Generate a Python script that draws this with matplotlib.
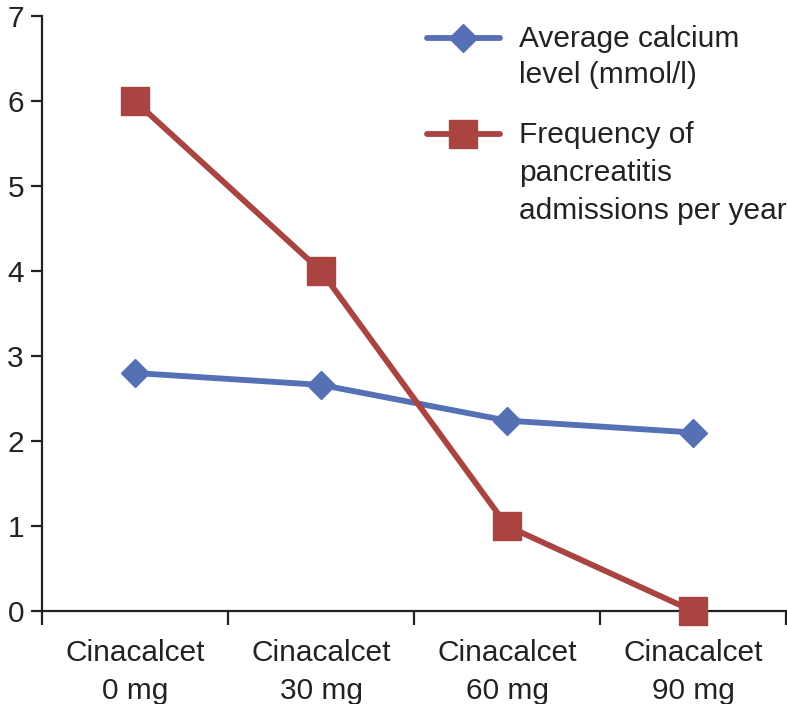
import numpy as np
import matplotlib
matplotlib.use('Agg')
import matplotlib.pyplot as plt
from matplotlib.ticker import FixedLocator, NullFormatter

plt.rcParams['font.family'] = ['Liberation Sans', 'DejaVu Sans']

categories = ['Cinacalcet\n0 mg', 'Cinacalcet\n30 mg', 'Cinacalcet\n60 mg', 'Cinacalcet\n90 mg']
calcium = [2.8, 2.66, 2.24, 2.1]
pancreatitis = [6, 4, 1, 0]
labels = ['Average calcium\nlevel (mmol/l)', 'Frequency of\npancreatitis\nadmissions per year']

blue = '#5670b5'
red = '#aa4440'
ink = '#222222'
fs = 21.5

fig = plt.figure(figsize=(7.87, 7.04), dpi=100)
ax = fig.add_axes([42 / 787, 1 - 611 / 704, 744 / 787, 595 / 704])

x = np.arange(len(categories))
ax.plot(x, calcium, '-D', color=blue, lw=4.2, ms=14, zorder=3)
ax.plot(x, pancreatitis, '-s', color=red, lw=4.2, ms=20, zorder=3, clip_on=False)

ax.set_xlim(-0.5, len(categories) - 0.5)
ax.set_ylim(0, 7)
ax.set_yticks(range(0, 8))
ax.tick_params(axis='y', direction='out', length=8, width=1.6, color=ink,
               labelsize=fs, pad=5, labelcolor=ink)
ax.set_xticks(x)
ax.set_xticklabels(categories, fontsize=fs, color=ink, linespacing=1.45)
ax.tick_params(axis='x', which='major', length=0, pad=20)
ax.xaxis.set_minor_locator(FixedLocator(np.arange(-0.5, len(categories), 1.0)))
ax.xaxis.set_minor_formatter(NullFormatter())
ax.tick_params(axis='x', which='minor', direction='out', length=10, width=1.6, color=ink)

for side in ['top', 'right']:
    ax.spines[side].set_visible(False)
for side in ['left', 'bottom']:
    ax.spines[side].set_linewidth(1.6)
    ax.spines[side].set_color(ink)

# legend drawn by hand so the key sits beside the first text line
for (color, marker, ms, y_key, y_text, label, ls) in [
        (blue, 'D', 14, 0.963, 0.985, labels[0], 1.35),
        (red, 's', 20, 0.802, 0.824, labels[1], 1.45)]:
    ax.plot([0.517, 0.616], [y_key, y_key], color=color, lw=4.2,
            transform=ax.transAxes, clip_on=False, solid_capstyle='round')
    ax.plot([0.5665], [y_key], marker=marker, color=color, ms=ms,
            transform=ax.transAxes, clip_on=False)
    ax.text(0.641, y_text, label, transform=ax.transAxes, fontsize=fs,
            color=ink, va='top', ha='left', linespacing=ls)

fig.savefig('out.png', dpi=100)
